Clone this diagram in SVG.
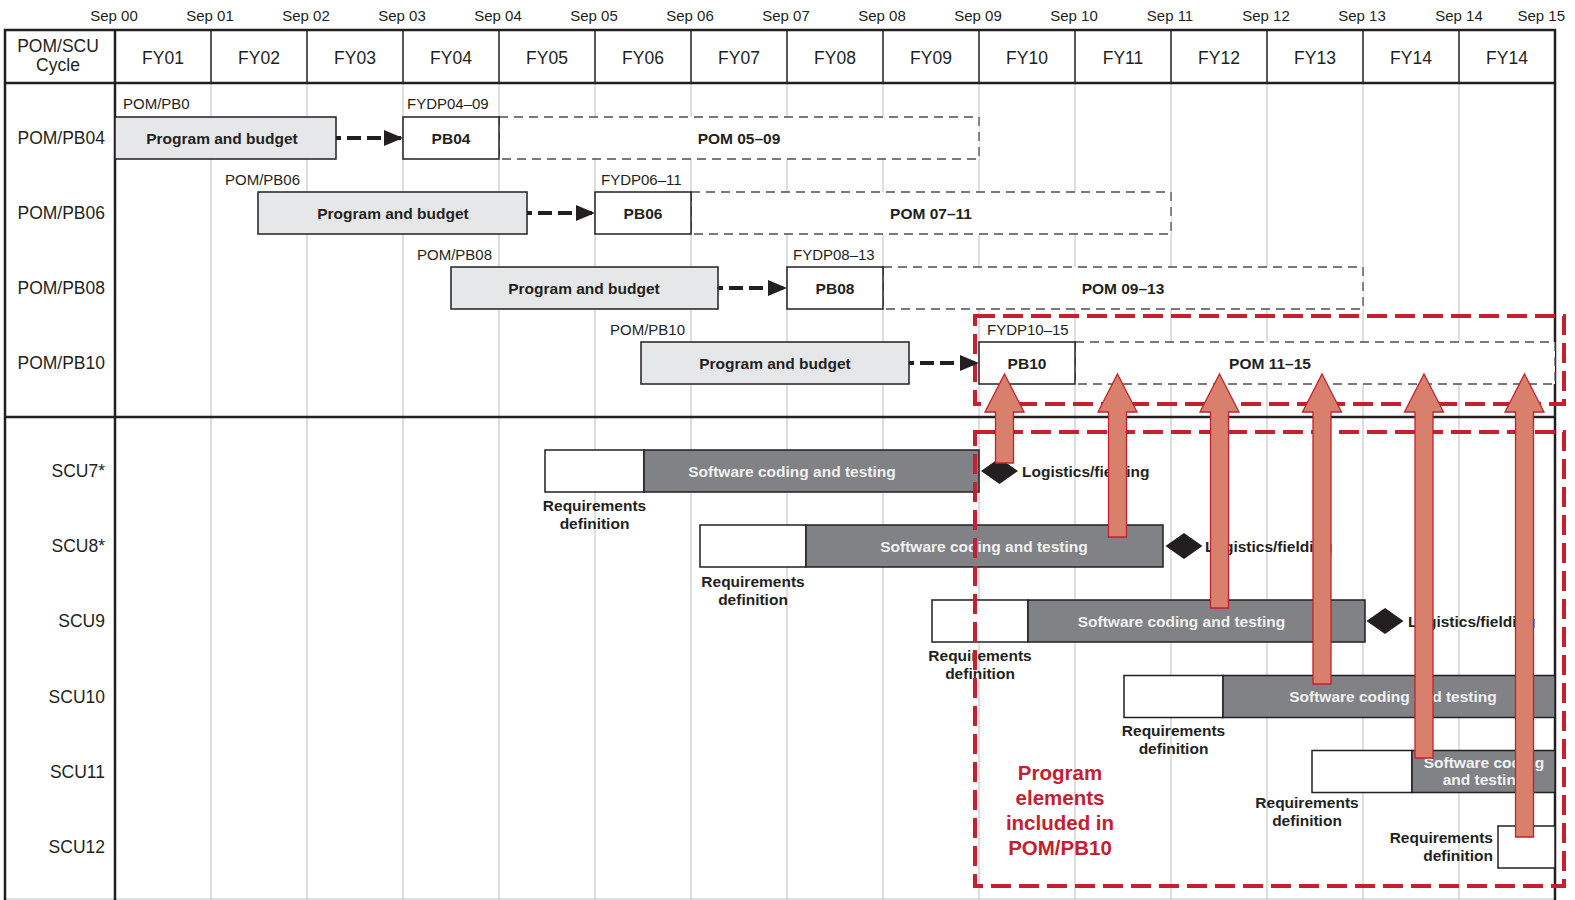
<svg xmlns="http://www.w3.org/2000/svg" width="1575" height="900" viewBox="0 0 1575 900">
<style>
text{font-family:"Liberation Sans",Arial,sans-serif;fill:#231f20}
.sep{font-size:15px;text-anchor:middle}
.hdr{font-size:17.5px;text-anchor:middle}
.row{font-size:17.5px;text-anchor:end}
.sm{font-size:15px}
.b{font-size:15.5px;font-weight:bold;text-anchor:middle}
.bl{font-size:15.5px;font-weight:bold}
.be{font-size:15.5px;font-weight:bold;text-anchor:end}
.w{fill:#f1f2f2}
.grid{stroke:#bcbec0;stroke-width:1}
.frame{stroke:#231f20;stroke-width:2.5;fill:none}
.hdiv{stroke:#231f20;stroke-width:1.5}
.pb{fill:#e6e7e8;stroke:#231f20;stroke-width:1.5}
.box{fill:#fff;stroke:#231f20;stroke-width:1.5}
.pom{fill:#fff;stroke:#4d4d4f;stroke-width:1.3;stroke-dasharray:9 6}
.sw{fill:#808285;stroke:#231f20;stroke-width:1.5}
.dia{fill:#231f20}
.flow{stroke:#231f20;stroke-width:4;stroke-dasharray:14 6;stroke-dashoffset:9;fill:none}
.red{fill:none;stroke:#c5202f;stroke-width:4;stroke-dasharray:20 8}
.blk{fill:#d9806c;stroke:#c5202f;stroke-width:1.3}
.rt{font-size:20.5px;font-weight:bold;fill:#c5202f;text-anchor:middle}
</style>
<defs>
<marker id="ah" markerWidth="20" markerHeight="16" refX="19" refY="8" orient="auto" markerUnits="userSpaceOnUse">
<path d="M0,0 L19,8 L0,16 Z" fill="#231f20"/>
</marker>
</defs>
<rect width="1575" height="900" fill="#fff"/>

<g id="timeline">
<text class="sep" x="114" y="21">Sep 00</text>
<text class="sep" x="210" y="21">Sep 01</text>
<text class="sep" x="306" y="21">Sep 02</text>
<text class="sep" x="402" y="21">Sep 03</text>
<text class="sep" x="498" y="21">Sep 04</text>
<text class="sep" x="594" y="21">Sep 05</text>
<text class="sep" x="690" y="21">Sep 06</text>
<text class="sep" x="786" y="21">Sep 07</text>
<text class="sep" x="882" y="21">Sep 08</text>
<text class="sep" x="978" y="21">Sep 09</text>
<text class="sep" x="1074" y="21">Sep 10</text>
<text class="sep" x="1170" y="21">Sep 11</text>
<text class="sep" x="1266" y="21">Sep 12</text>
<text class="sep" x="1362" y="21">Sep 13</text>
<text class="sep" x="1459" y="21">Sep 14</text>
<text class="sep" x="1565" y="21" style="text-anchor:end">Sep 15</text>
</g>

<g id="grid">
<line class="grid" x1="211" y1="83" x2="211" y2="899"/>
<line class="grid" x1="307" y1="83" x2="307" y2="899"/>
<line class="grid" x1="403" y1="83" x2="403" y2="899"/>
<line class="grid" x1="499" y1="83" x2="499" y2="899"/>
<line class="grid" x1="595" y1="83" x2="595" y2="899"/>
<line class="grid" x1="691" y1="83" x2="691" y2="899"/>
<line class="grid" x1="787" y1="83" x2="787" y2="899"/>
<line class="grid" x1="883" y1="83" x2="883" y2="899"/>
<line class="grid" x1="979" y1="83" x2="979" y2="899"/>
<line class="grid" x1="1075" y1="83" x2="1075" y2="899"/>
<line class="grid" x1="1171" y1="83" x2="1171" y2="899"/>
<line class="grid" x1="1267" y1="83" x2="1267" y2="899"/>
<line class="grid" x1="1363" y1="83" x2="1363" y2="899"/>
<line class="grid" x1="1459" y1="83" x2="1459" y2="899"/>
<line class="grid" x1="5" y1="899" x2="1555" y2="899"/>
</g>

<g id="table">
<line class="hdiv" x1="211" y1="30" x2="211" y2="83"/>
<line class="hdiv" x1="307" y1="30" x2="307" y2="83"/>
<line class="hdiv" x1="403" y1="30" x2="403" y2="83"/>
<line class="hdiv" x1="499" y1="30" x2="499" y2="83"/>
<line class="hdiv" x1="595" y1="30" x2="595" y2="83"/>
<line class="hdiv" x1="691" y1="30" x2="691" y2="83"/>
<line class="hdiv" x1="787" y1="30" x2="787" y2="83"/>
<line class="hdiv" x1="883" y1="30" x2="883" y2="83"/>
<line class="hdiv" x1="979" y1="30" x2="979" y2="83"/>
<line class="hdiv" x1="1075" y1="30" x2="1075" y2="83"/>
<line class="hdiv" x1="1171" y1="30" x2="1171" y2="83"/>
<line class="hdiv" x1="1267" y1="30" x2="1267" y2="83"/>
<line class="hdiv" x1="1363" y1="30" x2="1363" y2="83"/>
<line class="hdiv" x1="1459" y1="30" x2="1459" y2="83"/>
<path class="frame" d="M5,900 V30 H1555 V900"/>
<line class="frame" x1="115" y1="30" x2="115" y2="900"/>
<line class="frame" x1="5" y1="83" x2="1555" y2="83"/>
<line class="frame" x1="5" y1="417" x2="1555" y2="417"/>
<text class="hdr" x="58" y="52">POM/SCU</text>
<text class="hdr" x="58" y="71">Cycle</text>
<text class="hdr" x="163" y="64">FY01</text>
<text class="hdr" x="259" y="64">FY02</text>
<text class="hdr" x="355" y="64">FY03</text>
<text class="hdr" x="451" y="64">FY04</text>
<text class="hdr" x="547" y="64">FY05</text>
<text class="hdr" x="643" y="64">FY06</text>
<text class="hdr" x="739" y="64">FY07</text>
<text class="hdr" x="835" y="64">FY08</text>
<text class="hdr" x="931" y="64">FY09</text>
<text class="hdr" x="1027" y="64">FY10</text>
<text class="hdr" x="1123" y="64">FY11</text>
<text class="hdr" x="1219" y="64">FY12</text>
<text class="hdr" x="1315" y="64">FY13</text>
<text class="hdr" x="1411" y="64">FY14</text>
<text class="hdr" x="1507" y="64">FY14</text>
<text class="row" x="105" y="144">POM/PB04</text>
<text class="row" x="105" y="219">POM/PB06</text>
<text class="row" x="105" y="294">POM/PB08</text>
<text class="row" x="105" y="369">POM/PB10</text>
<text class="row" x="105" y="477">SCU7*</text>
<text class="row" x="105" y="552">SCU8*</text>
<text class="row" x="105" y="627">SCU9</text>
<text class="row" x="105" y="702.5">SCU10</text>
<text class="row" x="105" y="777.5">SCU11</text>
<text class="row" x="105" y="852.5">SCU12</text>
</g>

<!-- POM/PB04 -->
<g id="pb04-budget">
<text class="sm" x="123" y="109">POM/PB0</text>
<rect class="pb" x="115" y="117" width="221" height="42"/>
<text class="b" x="222" y="143.5">Program and budget</text>
</g>
<g id="pb04-pom">
<rect class="pom" x="499" y="117" width="480" height="42"/>
<text class="b" x="739" y="143.5">POM 05–09</text>
</g>
<g id="pb04-pb">
<text class="sm" x="407" y="109">FYDP04–09</text>
<rect class="box" x="403" y="117" width="96" height="42"/>
<text class="b" x="451" y="143.5">PB04</text>
</g>

<!-- POM/PB06 -->
<g id="pb06-budget">
<text class="sm" x="225" y="184.5">POM/PB06</text>
<rect class="pb" x="258" y="192" width="269" height="42"/>
<text class="b" x="393" y="218.5">Program and budget</text>
</g>
<g id="pb06-pom">
<rect class="pom" x="691" y="192" width="480" height="42"/>
<text class="b" x="931" y="218.5">POM 07–11</text>
</g>
<g id="pb06-pb">
<text class="sm" x="601" y="184.5">FYDP06–11</text>
<rect class="box" x="595" y="192" width="96" height="42"/>
<text class="b" x="643" y="218.5">PB06</text>
</g>

<!-- POM/PB08 -->
<g id="pb08-budget">
<text class="sm" x="417" y="259.5">POM/PB08</text>
<rect class="pb" x="451" y="267" width="267" height="42"/>
<text class="b" x="584" y="293.5">Program and budget</text>
</g>
<g id="pb08-pom">
<rect class="pom" x="883" y="267" width="480" height="42"/>
<text class="b" x="1123" y="293.5">POM 09–13</text>
</g>
<g id="pb08-pb">
<text class="sm" x="793" y="259.5">FYDP08–13</text>
<rect class="box" x="787" y="267" width="96" height="42"/>
<text class="b" x="835" y="293.5">PB08</text>
</g>

<!-- POM/PB10 -->
<g id="pb10-budget">
<text class="sm" x="610" y="334.5">POM/PB10</text>
<rect class="pb" x="641" y="342" width="268" height="42"/>
<text class="b" x="775" y="368.5">Program and budget</text>
</g>
<g id="pb10-pom">
<rect class="pom" x="1075" y="342" width="480" height="42"/>
<text class="b" x="1270" y="368.5">POM 11–15</text>
</g>
<g id="pb10-pb">
<text class="sm" x="987" y="334.5">FYDP10–15</text>
<rect class="box" x="979" y="342" width="96" height="42"/>
<text class="b" x="1027" y="368.5">PB10</text>
</g>

<!-- SCU7 -->
<g id="scu7-req">
<rect class="box" x="545" y="450" width="99" height="42"/>
<text class="b" x="594.5" y="510.5">Requirements</text>
<text class="b" x="594.5" y="529">definition</text>
</g>
<g id="scu7-sw">
<rect class="sw" x="644" y="450" width="335" height="42"/>
<text class="b w" x="792" y="476.5">Software coding and testing</text>
</g>
<g id="scu7-log">
<polygon class="dia" points="981,471 999.5,458 1018,471 999.5,484"/>
<text class="bl" x="1022" y="476.5">Logistics/fielding</text>
</g>

<!-- SCU8 -->
<g id="scu8-req">
<rect class="box" x="700" y="525" width="106" height="42"/>
<text class="b" x="753" y="587">Requirements</text>
<text class="b" x="753" y="605">definition</text>
</g>
<g id="scu8-sw">
<rect class="sw" x="806" y="525" width="357" height="42"/>
<text class="b w" x="984" y="551.5">Software coding and testing</text>
</g>
<g id="scu8-log">
<polygon class="dia" points="1165.5,546 1184,533 1202.5,546 1184,559"/>
<text class="bl" x="1205" y="551.5">Logistics/fielding</text>
</g>

<!-- SCU9 -->
<g id="scu9-req">
<rect class="box" x="932" y="600" width="96" height="42"/>
<text class="b" x="980" y="660.5">Requirements</text>
<text class="b" x="980" y="678.5">definition</text>
</g>
<g id="scu9-sw">
<rect class="sw" x="1028" y="600" width="337" height="42"/>
<text class="b w" x="1181.5" y="626.5">Software coding and testing</text>
</g>
<g id="scu9-log">
<polygon class="dia" points="1366.5,621 1385,608 1403.5,621 1385,634"/>
<text class="bl" x="1408" y="626.5">Logistics/fielding</text>
</g>

<!-- SCU10 -->
<g id="scu10-req">
<rect class="box" x="1124" y="675.5" width="99" height="42"/>
<text class="b" x="1173.5" y="735.5">Requirements</text>
<text class="b" x="1173.5" y="753.5">definition</text>
</g>
<g id="scu10-sw">
<rect class="sw" x="1223" y="675.5" width="332" height="42"/>
<text class="b w" x="1393" y="702">Software coding and testing</text>
</g>

<!-- SCU11 -->
<g id="scu11-req">
<rect class="box" x="1312" y="750.5" width="100" height="42"/>
<text class="b" x="1307" y="808">Requirements</text>
<text class="b" x="1307" y="826">definition</text>
</g>
<g id="scu11-sw">
<rect class="sw" x="1412" y="750.5" width="143" height="42"/>
<text class="b w" x="1484" y="768">Software coding</text>
<text class="b w" x="1484" y="785">and testing</text>
</g>

<!-- SCU12 -->
<g id="scu12-req">
<rect class="box" x="1498" y="826" width="57" height="42"/>
<text class="be" x="1493" y="843">Requirements</text>
<text class="be" x="1493" y="861">definition</text>
</g>

<g id="pom10-scope">
<rect class="red" x="975" y="316" width="589" height="88"/>
</g>
<g id="scu-scope">
<rect class="red" x="975" y="432" width="589" height="454"/>
<text class="rt" x="1060" y="780">Program</text>
<text class="rt" x="1060" y="805">elements</text>
<text class="rt" x="1060" y="830">included in</text>
<text class="rt" x="1060" y="855">POM/PB10</text>
</g>

<g id="connectors">
<line class="flow" x1="336" y1="138" x2="403" y2="138" marker-end="url(#ah)"/>
<line class="flow" x1="527" y1="213" x2="595" y2="213" marker-end="url(#ah)"/>
<line class="flow" x1="718" y1="288" x2="787" y2="288" marker-end="url(#ah)"/>
<line class="flow" x1="909" y1="363" x2="979" y2="363" marker-end="url(#ah)"/>
<polygon class="blk" points="1004.5,374 1024,412 1013.5,412 1013.5,463 995.5,463 995.5,412 985,412"/>
<polygon class="blk" points="1117.5,374 1137,412 1126.5,412 1126.5,537 1108.5,537 1108.5,412 1098,412"/>
<polygon class="blk" points="1219.5,374 1239,412 1228.5,412 1228.5,608 1210.5,608 1210.5,412 1200,412"/>
<polygon class="blk" points="1322,374 1341.5,412 1331,412 1331,684 1313,684 1313,412 1302.5,412"/>
<polygon class="blk" points="1424,374 1443.5,412 1433,412 1433,758 1415,758 1415,412 1404.5,412"/>
<polygon class="blk" points="1524.5,374 1544,412 1533.5,412 1533.5,837 1515.5,837 1515.5,412 1505,412"/>
</g>
</svg>
